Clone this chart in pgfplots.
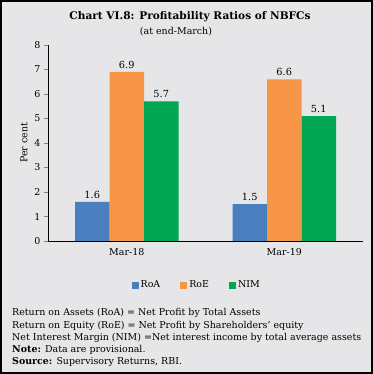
\documentclass[border=0pt]{standalone}
\usepackage{pgfplots}
\pgfplotsset{compat=1.18}
\usepackage{fontspec}
\setmainfont{DejaVu Serif}
\definecolor{bg}{HTML}{E6E6E8}
\definecolor{cRoA}{HTML}{4A7EBF}
\definecolor{cRoE}{HTML}{F79646}
\definecolor{cNIM}{HTML}{00A651}
\begin{document}
\begin{tikzpicture}[x=1bp,y=1bp]
\fill[bg] (0bp,0bp) rectangle (373bp,374bp);
\draw[line width=1.2bp] (1bp,1bp) rectangle (372bp,373bp);
\node[font=\fontsize{10.6}{12}\selectfont\bfseries] at (190bp,357bp) {Chart VI.8: Profitability Ratios of NBFCs};
\node[font=\fontsize{9.5}{11}\selectfont] at (176bp,342bp) {(at end-March)};
\begin{axis}[
  at={(48bp,133bp)}, anchor=south west,
  width=315bp, height=196bp, scale only axis,
  ybar=0pt, bar width=34.5bp,
  xmin=-0.5, xmax=1.5, ymin=0, ymax=8,
  axis x line=bottom, axis y line=left,
  axis line style={-, line width=0.8bp},
  xtick={0,1}, xticklabels={Mar-18,Mar-19},
  xtick style={draw=none},
  extra x ticks={0.5,1.5}, extra x tick labels={},
  extra x tick style={tick style={draw=black, line width=0.8bp}, major tick length=4bp, tick align=outside},
  ytick={0,1,...,8},
  ytick style={line width=0.8bp}, major tick length=4bp, tick align=outside,
  tick label style={font=\fontsize{9.5}{11}\selectfont},
  /pgf/number format/assume math mode=true,
  ylabel={Per cent}, ylabel style={font=\fontsize{9.5}{11}\selectfont},
  nodes near coords, nodes near coords style={font=\fontsize{9.8}{11}\selectfont, /pgf/number format/fixed, /pgf/number format/precision=1, /pgf/number format/fixed zerofill},
  legend columns=3,
  legend style={at={(0.472,-0.225)}, anchor=center, draw=none, fill=none, font=\fontsize{9.5}{11}\selectfont, /tikz/every even column/.append style={column sep=18bp}},
  legend image code/.code={\fill[#1] (0bp,-3.5bp) rectangle (7bp,3.5bp);},
  clip=false,
]
\addplot[fill=cRoA, draw=none] coordinates {(0,1.6) (1,1.5)};
\addplot[fill=cRoE, draw=none] coordinates {(0,6.9) (1,6.6)};
\addplot[fill=cNIM, draw=none] coordinates {(0,5.7) (1,5.1)};
\legend{RoA,RoE,NIM}
\end{axis}
\begin{scope}[every node/.style={anchor=west, inner sep=0pt, font=\fontsize{9.5}{11}\selectfont}]
\node at (12bp,61bp) {Return on Assets (RoA) = Net Profit by Total Assets};
\node at (12bp,48bp) {Return on Equity (RoE) = Net Profit by Shareholders' equity};
\node at (12bp,36bp) {Net Interest Margin (NIM) =Net interest income by total average assets};
\node at (12bp,24bp) {\textbf{Note:} Data are provisional.};
\node at (12bp,12bp) {\textbf{Source:} Supervisory Returns, RBI.};
\end{scope}
\end{tikzpicture}
\end{document}
